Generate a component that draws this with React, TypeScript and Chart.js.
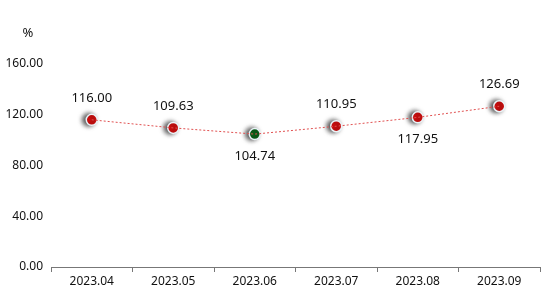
import React, { useEffect, useRef } from "react";
import { Chart, registerables } from "chart.js";

Chart.register(...registerables);

const categories = ["2023.04", "2023.05", "2023.06", "2023.07", "2023.08", "2023.09"];
const values = [116.0, 109.63, 104.74, 110.95, 117.95, 126.69];
const labelBelow = [false, false, true, false, true, false];
const pointColors = ["#e01010", "#e01010", "#0c6a1c", "#e01010", "#e01010", "#e01010"];
const yTicksMax = 160;
const yStep = 40;
const unitLabel = "%";

const FONT = "'Noto Sans', 'DejaVu Sans', sans-serif";

const shadowPlugin = {
  id: "pointShadow",
  beforeDatasetDraw(chart: any, args: any) {
    if (args.index !== 1) return;
    const ctx = chart.ctx;
    ctx.save();
    ctx.shadowColor = "rgba(0,0,0,0.75)";
    ctx.shadowBlur = 5;
    ctx.shadowOffsetX = -3;
    ctx.shadowOffsetY = 0;
  },
  afterDatasetDraw(chart: any, args: any) {
    if (args.index !== 1) return;
    chart.ctx.restore();
  },
};

const labelPlugin = {
  id: "valueLabels",
  afterDatasetsDraw(chart: any) {
    const ctx = chart.ctx;
    const meta = chart.getDatasetMeta(1);
    ctx.save();
    ctx.font = `13px ${FONT}`;
    ctx.fillStyle = "#111";
    ctx.textAlign = "center";
    ctx.textBaseline = "middle";
    meta.data.forEach((pt: any, i: number) => {
      const dy = labelBelow[i] ? 22 : -22;
      ctx.fillText(values[i].toFixed(2), pt.x, pt.y + dy);
    });
    ctx.fillText(unitLabel, 28, 33);
    ctx.restore();
  },
};

export default function App() {
  const ref = useRef<HTMLCanvasElement>(null);
  useEffect(() => {
    document.body.style.margin = "0";
    const chart = new Chart(ref.current!, {
      type: "line",
      data: {
        labels: categories,
        datasets: [
          {
            data: values,
            borderColor: "#e05050",
            borderWidth: 1,
            borderDash: [2, 2],
            pointRadius: 0,
            fill: false,
          },
          {
            data: values,
            showLine: false,
            pointRadius: 5.5,
            pointBorderWidth: 1.5,
            pointBorderColor: "#eaf4f8",
            pointBackgroundColor: pointColors,
            pointHoverRadius: 5.5,
          },
        ],
      },
      options: {
        animation: false,
        responsive: false,
        layout: { padding: { top: 64, right: 14, left: 0, bottom: 0 } },
        plugins: { legend: { display: false }, tooltip: { enabled: false } },
        scales: {
          x: {
            offset: true,
            grid: {
              offset: true,
              drawOnChartArea: false,
              drawTicks: true,
              tickLength: 5,
              color: "#777",
            },
            border: { display: true, color: "#777", width: 1 },
            ticks: { color: "#111", font: { size: 12, family: FONT }, padding: 2 },
            afterFit(scale: any) {
              scale.height = 37;
            },
          },
          y: {
            min: 0,
            max: yTicksMax,
            grid: { display: false, drawTicks: false, tickLength: 0 },
            border: { display: false },
            ticks: {
              stepSize: yStep,
              color: "#111",
              font: { size: 12, family: FONT },
              padding: 8,
              callback: (v: any) => Number(v).toFixed(2),
            },
            afterFit(scale: any) {
              scale.width = 51;
            },
          },
        },
      },
      plugins: [shadowPlugin, labelPlugin],
    });
    return () => chart.destroy();
  }, []);
  return <canvas ref={ref} width={554} height={304} style={{ display: "block" }} />;
}
